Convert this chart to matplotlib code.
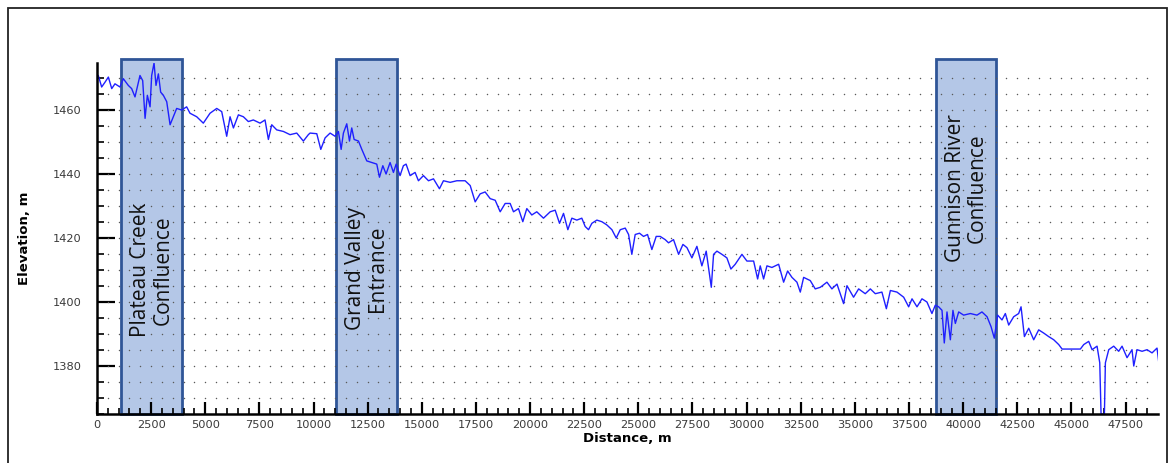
import numpy as np
import matplotlib.pyplot as plt
from matplotlib.patches import Rectangle

# river profile (distance m, elevation m)
dist_m = [0, 60, 215, 370, 525, 680, 830, 1060, 1215, 1445, 1600, 1755, 1985, 2110, 2220,
          2325, 2450, 2525, 2635, 2725, 2835, 2940, 3065, 3220, 3375, 3525, 3680, 3910,
          4140, 4295, 4605, 4910, 5220, 5530, 5760, 5990, 6145, 6300, 6530, 6760, 6990,
          7220, 7530, 7760, 7915, 8070, 8300, 8610, 8915, 9225, 9530, 9760,
          9840, 10150, 10335, 10535, 10765, 10995, 11150, 11275, 11380, 11535, 11660,
          11765, 11875, 12075, 12230, 12460, 12690, 12920, 13045, 13200, 13350, 13535,
          13690, 13815, 13995, 14150, 14275, 14460, 14690, 14845, 15075, 15310, 15540,
          15815, 16000, 16310, 16620, 17000, 17235, 17465, 17695, 17925, 18160, 18390,
          18620, 18850, 19080, 19235, 19465, 19665, 19850, 20080, 20310, 20620, 20930,
          21160, 21360, 21545, 21745, 21930, 22160, 22390, 22545, 22700, 22855, 23085,
          23315, 23545, 23780, 23980, 24165, 24395, 24550, 24700, 24855, 25055, 25240,
          25425, 25625, 25825, 26010, 26240, 26395, 26625, 26860, 27060, 27245, 27475,
          27705, 27935, 28135, 28370, 28475, 28630, 28860, 29090, 29275, 29475, 29785,
          30015, 30325, 30510, 30630, 30785, 30940, 31170, 31480, 31710, 31895, 32095,
          32325, 32480, 32635, 32940, 33170, 33405, 33710, 33940, 34175, 34480, 34635,
          34940, 35175, 35480, 35715, 35945, 36250, 36455, 36640, 36945, 37255, 37485,
          37640, 37870, 38100, 38330, 38560, 38715, 38870, 39025, 39130, 39255, 39410,
          39530, 39640, 39795, 40025, 40335, 40640, 40870, 41105, 41290, 41440, 41595,
          41795, 41950, 42105, 42335, 42565, 42675, 42830, 43030, 43260, 43490, 43720,
          43950, 44185, 44415, 44570, 45415, 45570, 45800, 45955, 46185, 46310, 46370,
          46525, 46570, 46725, 46955, 47185, 47340, 47570, 47800, 47880, 48030, 48265,
          48495, 48725, 48955, 49030]
elev_m = [1469.8, 1470.8, 1467.2, 1468.7, 1470.3, 1466.7, 1468.2, 1467.2, 1469.8, 1467.7,
          1466.7, 1464.1, 1470.8, 1469.2, 1457.4, 1464.6, 1461.0, 1470.8, 1474.7, 1467.7,
          1471.3, 1465.6, 1464.6, 1462.6, 1455.4, 1457.9, 1460.5, 1460.0, 1461.0, 1459.0,
          1457.9, 1455.9, 1459.0, 1460.5, 1459.5, 1451.8, 1457.9, 1454.4, 1458.5, 1457.9,
          1456.4, 1456.9, 1455.9, 1456.9, 1450.8, 1455.4, 1453.8, 1453.3, 1452.3, 1452.8,
          1450.3, 1452.3,
          1452.8, 1452.6, 1447.7, 1451.3, 1452.8, 1451.8, 1453.3, 1447.7, 1452.8, 1455.7,
          1450.3, 1454.4, 1450.8, 1450.3, 1447.7, 1444.1, 1443.6, 1443.1, 1439.0, 1442.6,
          1440.0, 1443.6, 1440.5, 1443.1, 1439.5, 1442.6, 1443.1, 1439.5, 1440.5, 1437.9,
          1439.5, 1437.9, 1438.5, 1435.4, 1437.9, 1437.4, 1437.9, 1437.9, 1436.4, 1431.3,
          1433.8, 1434.4, 1432.3, 1431.8,
          1428.2, 1430.8, 1430.8, 1428.2, 1429.2, 1425.1, 1429.2, 1427.2, 1428.2, 1426.2,
          1428.2, 1428.7, 1424.6, 1427.7, 1422.6, 1426.2, 1425.6, 1426.2, 1423.6, 1422.6,
          1424.6, 1425.6, 1425.1, 1424.1, 1422.6, 1420.0, 1422.6, 1423.1, 1421.1, 1414.9,
          1421.1, 1421.5, 1420.5, 1421.1, 1416.4, 1420.5, 1420.5, 1419.5, 1418.5, 1419.5,
          1414.9, 1418.0, 1417.0, 1413.8, 1417.4, 1411.3, 1415.9, 1404.6, 1414.9, 1415.9,
          1414.9, 1413.8, 1410.3, 1411.8, 1414.9, 1412.8, 1412.8, 1407.2, 1411.3, 1407.2,
          1411.3, 1410.8, 1411.8, 1406.2, 1409.7, 1407.7, 1406.2, 1403.1, 1407.7, 1406.7,
          1404.1, 1404.6, 1406.2, 1404.1, 1405.6, 1399.5, 1405.1, 1401.5, 1404.1, 1402.6,
          1404.1, 1402.6, 1403.1, 1397.9, 1403.6, 1403.1, 1401.5, 1398.5, 1401.0, 1398.5,
          1401.0, 1400.0, 1396.4, 1399.0, 1398.5, 1397.4, 1387.2, 1396.9, 1388.2, 1397.4,
          1393.3, 1396.9, 1395.9, 1396.4, 1395.9, 1396.9, 1395.4, 1392.3, 1388.7, 1395.9,
          1394.4, 1396.4, 1392.8, 1395.4, 1396.4, 1398.5, 1389.2, 1391.8, 1388.2, 1391.3,
          1390.3, 1389.2, 1388.2, 1386.7, 1385.3, 1385.3, 1386.7, 1387.7, 1385.1, 1386.2,
          1381.0, 1365.0, 1365.0, 1381.0, 1385.1, 1386.2, 1384.6, 1386.2, 1382.6, 1385.1,
          1380.0, 1385.1, 1384.6, 1385.1, 1384.1, 1385.6, 1381.5]

box_start = [1110, 11040, 38760]
box_end = [3930, 13860, 41540]
box_labels = ["Plateau Creek\nConfluence", "Grand Valley\nEntrance", "Gunnison River\nConfluence"]
label_y = [1410, 1410.5, 1435.5]

ymin, ymax, box_top = 1365, 1474.7, 1476

fig = plt.figure(figsize=(11.69, 4.63), dpi=100)
ax = fig.add_axes([97 / 1169, 1 - 414 / 463, (1158 - 97) / 1169, (414 - 63) / 463])

# outer frame
fig.patches.append(Rectangle((8 / 1169, -0.1), 1159 / 1169, 1.1 - 8 / 463, transform=fig.transFigure,
                             fill=False, edgecolor='#222222', lw=1.3))

for x0, x1, lab, ly in zip(box_start, box_end, box_labels, label_y):
    ax.add_patch(Rectangle((x0, ymin), x1 - x0, box_top - ymin, facecolor='#b4c7e7',
                           edgecolor='#2f5597', lw=2, clip_on=False, zorder=1))
    ax.text((x0 + x1) / 2, ly, lab, rotation=90, ha='center', va='center', fontsize=15,
            family='Open Sans', color='#111111', zorder=4, linespacing=1.1)

# dotted lattice
gx, gy = np.meshgrid(np.arange(500, 49000, 500), np.arange(1370, 1474, 5))
ax.scatter(gx.ravel(), gy.ravel(), s=1.1, c='#5a5a5a', marker='o', lw=0, zorder=2)

ax.plot(dist_m, elev_m, color='#1f1fff', lw=1, zorder=3)

ax.set_xlim(0, 49000)
ax.set_ylim(ymin, ymax)
ax.set_xticks(np.arange(0, 49000, 2500))
ax.set_xticks(np.arange(0, 49000, 500), minor=True)
ax.set_yticks([1380, 1400, 1420, 1440, 1460])
ax.set_yticks(np.arange(1365, 1475, 5), minor=True)

for s in ['top', 'right']:
    ax.spines[s].set_visible(False)
for s in ['left', 'bottom']:
    ax.spines[s].set_linewidth(1.8)
    ax.spines[s].set_zorder(5)

ax.tick_params(axis='x', which='major', direction='in', length=9, width=1.6, pad=4,
               labelsize=8.2, labelcolor='#3a3a3a')
ax.tick_params(axis='x', which='minor', direction='in', length=4, width=1.2)
ax.tick_params(axis='y', which='major', direction='in', length=13, width=1.6, pad=11,
               labelsize=8.2, labelcolor='#3a3a3a')
ax.tick_params(axis='y', which='minor', direction='in', length=5, width=1.2)

ax.set_xlabel('Distance, m', fontsize=9.5, fontweight='bold', labelpad=2)
ax.set_ylabel('Elevation, m', fontsize=9.5, fontweight='bold', labelpad=16)

fig.savefig('out.png', dpi=100)
